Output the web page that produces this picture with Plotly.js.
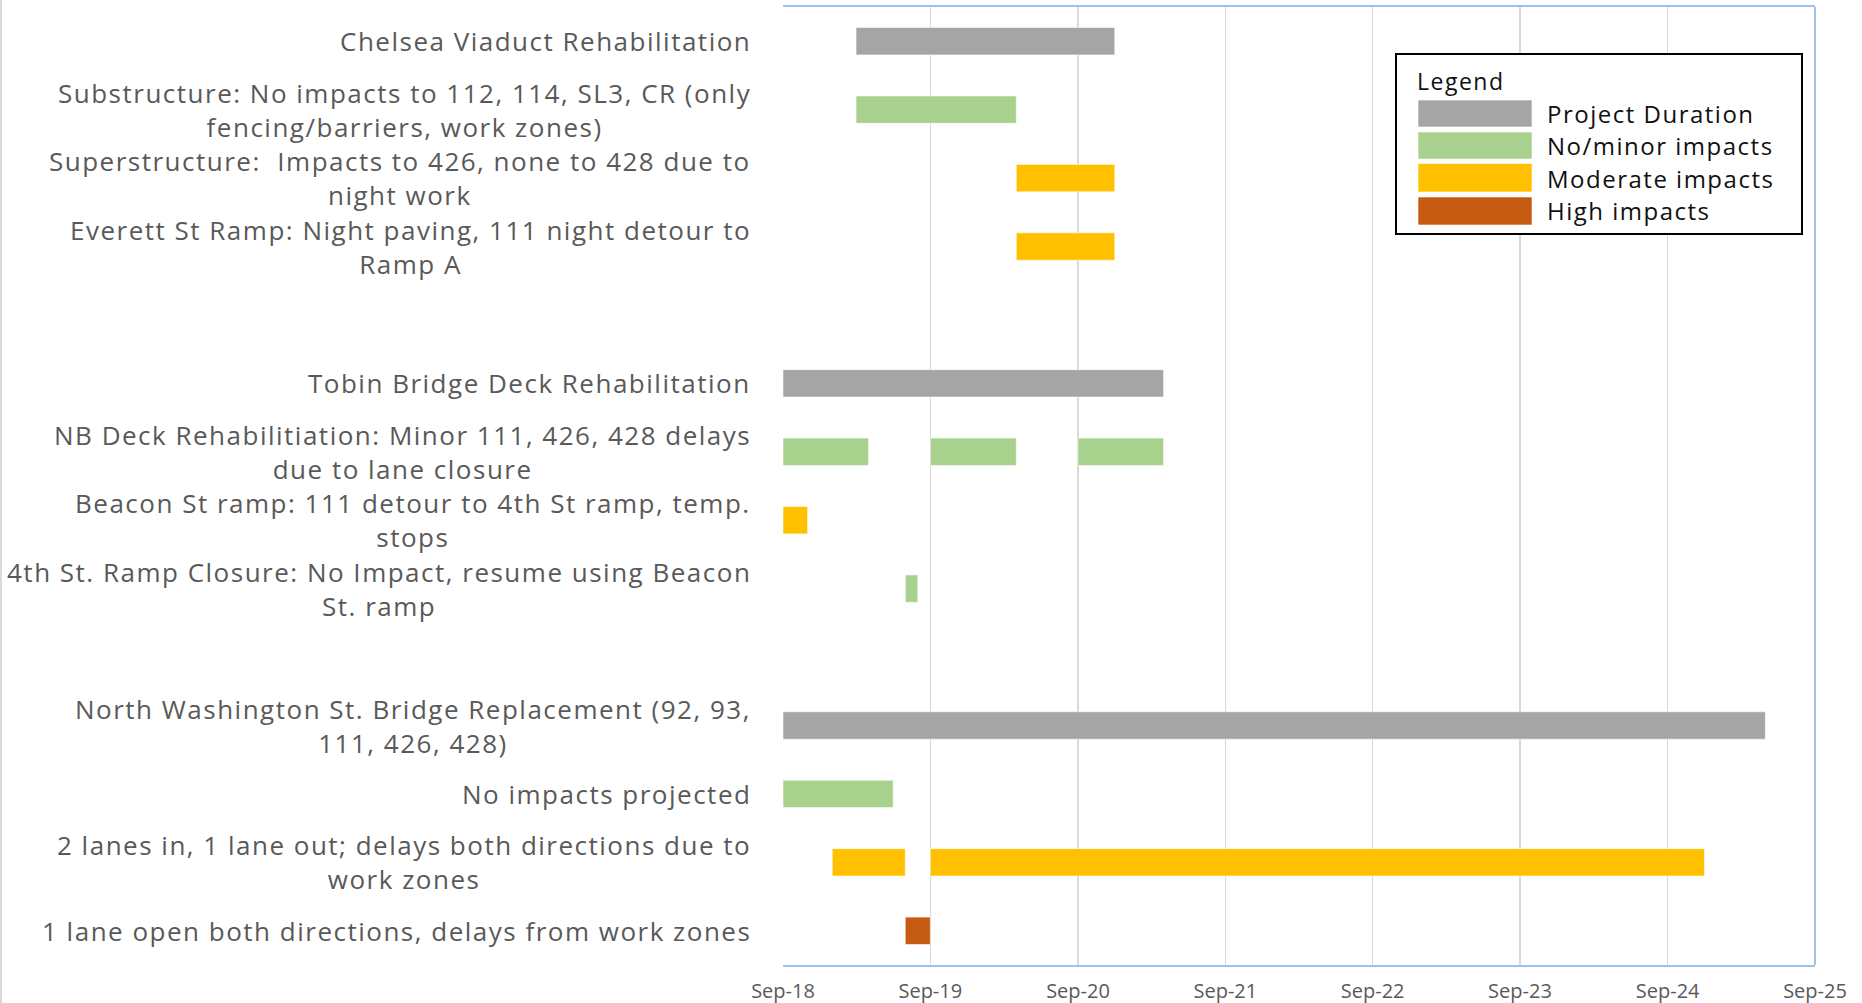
<!DOCTYPE html>
<html>
<head>
<meta charset="utf-8">
<script src="https://cdn.plot.ly/plotly-3.0.1.min.js"></script>
<style>
  html, body { margin: 0; padding: 0; background: #ffffff; }
  #chart { width: 1862px; height: 1003px; }
  .annotation-text { letter-spacing: 1.5px; }
</style>
</head>
<body>
<div id="chart"></div>
<script>
// ---- Data ----
const rowKeys = ['chelsea','sub','super','everett','gap1','tobin','nb','beacon','fourth','gap2','nwash','noimp','twolanes','onelane'];
const rowLabels = [
  'Chelsea Viaduct Rehabilitation',
  'Substructure: No impacts to 112, 114, SL3, CR (only<br>fencing/barriers, work zones)',
  'Superstructure:  Impacts to 426, none to 428 due to<br>night work',
  'Everett St Ramp: Night paving, 111 night detour to<br>Ramp A',
  '',
  'Tobin Bridge Deck Rehabilitation',
  'NB Deck Rehabilitiation: Minor 111, 426, 428 delays<br>due to lane closure',
  'Beacon St ramp: 111 detour to 4th St ramp, temp.<br>stops',
  '4th St. Ramp Closure: No Impact, resume using Beacon<br>St. ramp',
  '',
  'North Washington St. Bridge Replacement (92, 93,<br>111, 426, 428)',
  'No impacts projected',
  '2 lanes in, 1 lane out; delays both directions due to<br>work zones',
  '1 lane open both directions, delays from work zones'
];

// Project Duration (gray)
const durRows   = ['chelsea','tobin','nwash'];
const durStart  = ['2019-03-01','2018-09-01','2018-09-01'];
const durEnd    = ['2020-12-01','2021-04-01','2025-05-01'];
// No/minor impacts (green)
const lowRows   = ['sub','nb','nb','nb','fourth','noimp'];
const lowStart  = ['2019-03-01','2018-09-01','2019-09-01','2020-09-01','2019-07-01','2018-09-01'];
const lowEnd    = ['2020-04-01','2019-04-01','2020-04-01','2021-04-01','2019-08-01','2019-06-01'];
// Moderate impacts (orange)
const modRows   = ['super','everett','beacon','twolanes','twolanes'];
const modStart  = ['2020-04-01','2020-04-01','2018-09-01','2019-01-01','2019-09-01'];
const modEnd    = ['2020-12-01','2020-12-01','2018-11-01','2019-07-01','2024-12-01'];
// High impacts (red)
const highRows  = ['onelane'];
const highStart = ['2019-07-01'];
const highEnd   = ['2019-09-01'];

const seriesNames = ['Project Duration','No/minor impacts','Moderate impacts','High impacts'];
const seriesColors = ['#A5A5A5','#A9D18E','#FFC000','#C55A11'];

const xTickVals = ['2018-09-01','2019-09-01','2020-09-01','2021-09-01','2022-09-01','2023-09-01','2024-09-01','2025-09-01'];
const xTickText = ['Sep-18','Sep-19','Sep-20','Sep-21','Sep-22','Sep-23','Sep-24','Sep-25'];

// ---- Build ----
function span(s, e) { return s.map((d, i) => Date.parse(e[i]) - Date.parse(d)); }
const groups = [
  [durRows, durStart, durEnd],
  [lowRows, lowStart, lowEnd],
  [modRows, modStart, modEnd],
  [highRows, highStart, highEnd]
];
const traces = groups.map((g, k) => ({
  type: 'bar',
  orientation: 'h',
  name: seriesNames[k],
  y: g[0],
  base: g[1],
  x: span(g[1], g[2]),
  width: 0.4,
  marker: { color: seriesColors[k], line: { color: 'rgba(255,255,255,0.55)', width: 1 } },
  hoverinfo: 'skip',
  showlegend: false
}));

// Plot area geometry (pixels)
const W = 1862, H = 1003;
const L = 783, R = 1815, T = 7, B = 965;
const px = x => (x - L) / (R - L);
const py = y => 1 - (y - T) / (B - T);
const FONT = '"Open Sans", Lato, sans-serif';

const annotations = rowKeys.map((k, i) => ({
  x: 0, xref: 'paper', xanchor: 'right', xshift: -30,
  y: k, yref: 'y', yanchor: 'middle',
  text: rowLabels[i], showarrow: false, align: 'center',
  font: { family: FONT, size: 26, color: '#595959' }
})).filter(a => a.text !== '');

// Legend (drawn box)
const legSwY = [[100,127],[132,159],[163.5,192],[197,225]];
const legTxtY = [113.5, 145.5, 178, 211];
annotations.push({
  x: px(1415), xref: 'paper', xanchor: 'left', y: py(81), yref: 'paper', yanchor: 'middle',
  text: 'Legend', showarrow: false,
  font: { family: FONT, size: 23, color: '#111111' }
});
seriesNames.forEach((n, i) => annotations.push({
  x: px(1545), xref: 'paper', xanchor: 'left', y: py(legTxtY[i]), yref: 'paper', yanchor: 'middle',
  text: n, showarrow: false,
  font: { family: FONT, size: 24, color: '#111111' }
}));

const shapes = [
  // right border of plot area
  { type: 'line', xref: 'paper', yref: 'paper', x0: 1, x1: 1, y0: 0, y1: 1, line: { color: '#9DC3E6', width: 2 } },
  // outer chart frame left edge
  { type: 'line', xref: 'paper', yref: 'paper', x0: px(1), x1: px(1), y0: py(0), y1: py(H), line: { color: '#D9D9D9', width: 2 } },
  // legend box
  { type: 'rect', xref: 'paper', yref: 'paper', x0: px(1396), x1: px(1802), y0: py(234), y1: py(54),
    line: { color: '#000000', width: 2 }, fillcolor: '#ffffff' }
];
legSwY.forEach((yy, i) => shapes.push({
  type: 'rect', xref: 'paper', yref: 'paper', x0: px(1418), x1: px(1532), y0: py(yy[1]), y1: py(yy[0]),
  line: { color: 'rgba(255,255,255,0.6)', width: 1 }, fillcolor: seriesColors[i]
}));

const layout = {
  width: W, height: H,
  margin: { l: L, r: W - R, t: T, b: H - B, pad: 0 },
  paper_bgcolor: '#ffffff', plot_bgcolor: '#ffffff',
  barmode: 'overlay',
  showlegend: false,
  xaxis: {
    type: 'date',
    range: ['2018-09-01', '2025-09-01'],
    tickmode: 'array', tickvals: xTickVals, ticktext: xTickText,
    showgrid: true, gridcolor: '#D9D9D9', gridwidth: 1.5,
    showline: true, mirror: true, linecolor: '#9DC3E6', linewidth: 2,
    ticks: '', ticklen: 0, ticklabelstandoff: 7,
    tickfont: { family: FONT, size: 20, color: '#595959' },
    zeroline: false, fixedrange: true
  },
  yaxis: {
    type: 'category',
    categoryorder: 'array', categoryarray: rowKeys,
    range: [rowKeys.length - 0.5, -0.5],
    showticklabels: false, showgrid: false, showline: false, zeroline: false,
    ticks: '', fixedrange: true
  },
  annotations: annotations,
  shapes: shapes
};

Plotly.newPlot('chart', traces, layout, { displayModeBar: false, staticPlot: true });
</script>
</body>
</html>
